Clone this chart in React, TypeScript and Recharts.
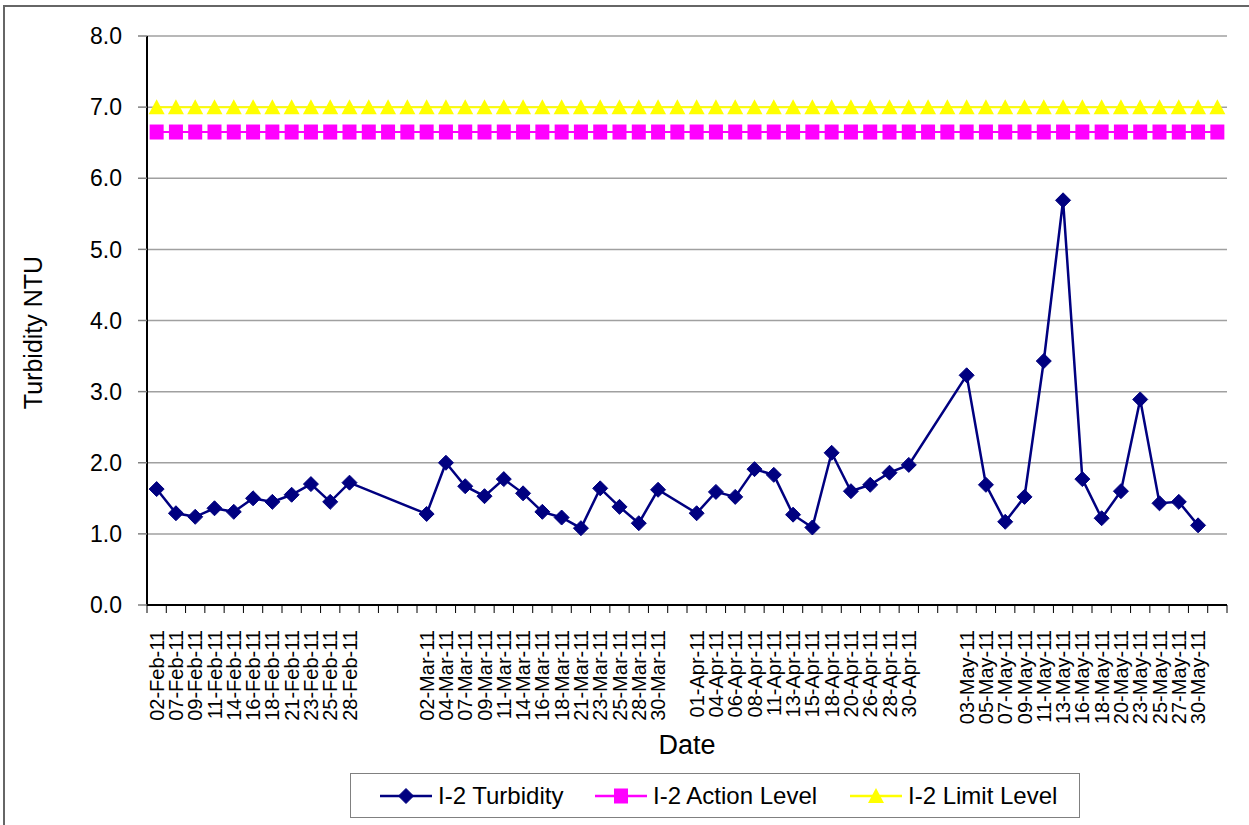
import React from 'react';
import { LineChart, Line, XAxis, YAxis, CartesianGrid, Legend } from 'recharts';

// sample dates, blanks are the empty slots on the category axis
const DATES = [
  '02-Feb-11', '07-Feb-11', '09-Feb-11', '11-Feb-11', '14-Feb-11', '16-Feb-11', '18-Feb-11',
  '21-Feb-11', '23-Feb-11', '25-Feb-11', '28-Feb-11', '', '', '',
  '02-Mar-11', '04-Mar-11', '07-Mar-11', '09-Mar-11', '11-Mar-11', '14-Mar-11', '16-Mar-11',
  '18-Mar-11', '21-Mar-11', '23-Mar-11', '25-Mar-11', '28-Mar-11', '30-Mar-11', '',
  '01-Apr-11', '04-Apr-11', '06-Apr-11', '08-Apr-11', '11-Apr-11', '13-Apr-11', '15-Apr-11',
  '18-Apr-11', '20-Apr-11', '26-Apr-11', '28-Apr-11', '30-Apr-11', '', '',
  '03-May-11', '05-May-11', '07-May-11', '09-May-11', '11-May-11', '13-May-11', '16-May-11',
  '18-May-11', '20-May-11', '23-May-11', '25-May-11', '27-May-11', '30-May-11', '',
];

const TURBIDITY: (number | null)[] = [
  1.63, 1.29, 1.24, 1.36, 1.31, 1.5, 1.45,
  1.55, 1.7, 1.45, 1.72, null, null, null,
  1.28, 2.0, 1.67, 1.53, 1.77, 1.57, 1.31,
  1.23, 1.08, 1.64, 1.38, 1.15, 1.62, null,
  1.29, 1.59, 1.52, 1.91, 1.83, 1.27, 1.09,
  2.14, 1.6, 1.69, 1.86, 1.97, null, null,
  3.23, 1.69, 1.17, 1.52, 3.43, 5.69, 1.77,
  1.22, 1.6, 2.89, 1.43, 1.45, 1.12, null,
];

const ACTION_LEVEL = 6.65;
const LIMIT_LEVEL = 7.0;

const Y_TICKS = [0, 1, 2, 3, 4, 5, 6, 7, 8];

const data = DATES.map((date, i) => ({
  slot: i,
  date,
  turbidity: TURBIDITY[i],
  action: ACTION_LEVEL,
  limit: LIMIT_LEVEL,
}));

const FONT = '"Liberation Sans", Arial, sans-serif';
const PLOT_W = 1080;
const HALF_BAND = PLOT_W / DATES.length / 2;

const Diamond = ({ cx, cy }: any) => {
  if (cx == null || cy == null) return null;
  const r = 7.5;
  return (
    <polygon
      points={`${cx},${cy - r} ${cx + r},${cy} ${cx},${cy + r} ${cx - r},${cy}`}
      fill="#000080"
      stroke="#000080"
    />
  );
};

const Square = ({ cx, cy }: any) => {
  if (cx == null || cy == null) return null;
  return <rect x={cx - 7} y={cy - 7.5} width={14} height={15} fill="#ff00ff" />;
};

const Triangle = ({ cx, cy }: any) => {
  if (cx == null || cy == null) return null;
  return (
    <polygon
      points={`${cx},${cy - 8} ${cx + 8},${cy + 7} ${cx - 8},${cy + 7}`}
      fill="#ffff00"
    />
  );
};

const XTick = ({ x, y, payload, index }: any) => {
  const label = DATES[payload.value];
  return (
    <g>
      <line x1={x - HALF_BAND} y1={y} x2={x - HALF_BAND} y2={y + 8} stroke="#000" strokeWidth={1} />
      {index === DATES.length - 1 && (
        <line x1={x + HALF_BAND} y1={y} x2={x + HALF_BAND} y2={y + 8} stroke="#000" strokeWidth={1} />
      )}
      <text
        transform={`translate(${x},${y + 25}) rotate(-90)`}
        textAnchor="end"
        dominantBaseline="central"
        fontSize={20}
        fontFamily={FONT}
        fill="#000"
      >
        {label}
      </text>
    </g>
  );
};

const YLabel = ({ viewBox }: any) => {
  const cy = viewBox.y + viewBox.height / 2 + 12;
  return (
    <text
      transform={`translate(33,${cy}) rotate(-90)`}
      textAnchor="middle"
      dominantBaseline="central"
      fontSize={25}
      fontFamily={FONT}
      fill="#000"
    >
      Turbidity NTU
    </text>
  );
};

const legendItems = [
  { name: 'I-2 Turbidity', color: '#000080', Marker: Diamond, width: 215 },
  { name: 'I-2 Action Level', color: '#ff00ff', Marker: Square, width: 255 },
  { name: 'I-2 Limit Level', color: '#ffff00', Marker: Triangle, width: 220 },
];

const LegendBox = () => (
  <div
    style={{
      width: 730,
      height: 45,
      boxSizing: 'border-box',
      border: '1px solid #808080',
      background: '#fff',
      display: 'flex',
      alignItems: 'center',
      paddingLeft: 29,
      fontFamily: FONT,
      fontSize: 24,
      color: '#000',
      whiteSpace: 'nowrap',
    }}
  >
    {legendItems.map(({ name, color, Marker, width }) => (
      <div key={name} style={{ display: 'flex', alignItems: 'center', width, flex: 'none' }}>
        <svg width={52} height={20} style={{ marginRight: 6 }}>
          <line x1={0} y1={10} x2={52} y2={10} stroke={color} strokeWidth={2.5} />
          <Marker cx={26} cy={10} />
        </svg>
        <span>{name}</span>
      </div>
    ))}
  </div>
);

export default function App() {
  return (
    <div style={{ position: 'absolute', left: 0, top: 0, width: 1249, height: 825, background: '#fff', overflow: 'hidden' }}>
      <div
        style={{
          position: 'absolute',
          left: 3,
          top: 5,
          width: 1300,
          height: 900,
          borderTop: '2px solid #666',
          borderLeft: '2px solid #666',
        }}
      />
      <div style={{ position: 'absolute', left: 0, top: 0 }}>
        <LineChart
          width={1249}
          height={825}
          data={data}
          margin={{ top: 36, right: 22, bottom: 7, left: 27 }}
        >
          <CartesianGrid vertical={false} stroke="#a0a0a0" strokeWidth={1.5} />
          <XAxis
            dataKey="slot"
            type="category"
            scale="band"
            interval={0}
            height={168}
            tickLine={false}
            tickSize={0}
            tickMargin={0}
            tick={<XTick />}
            axisLine={{ stroke: '#000', strokeWidth: 2 }}
            label={{ value: 'Date', position: 'insideBottom', offset: 19, fontSize: 27, fontFamily: FONT, fill: '#000' }}
          />
          <YAxis
            domain={[0, 8]}
            ticks={Y_TICKS}
            interval={0}
            width={120}
            tickSize={9}
            tickMargin={16}
            tickFormatter={(v: number) => v.toFixed(1)}
            tick={{ fontSize: 23, fontFamily: FONT, fill: '#000' }}
            tickLine={{ stroke: '#808080', strokeWidth: 1.5 }}
            axisLine={{ stroke: '#000', strokeWidth: 2 }}
            label={<YLabel />}
          />
          <YAxis
            yAxisId="frame"
            orientation="right"
            width={0}
            domain={[0, 8]}
            tick={false}
            tickLine={false}
            axisLine={{ stroke: '#808080', strokeWidth: 2 }}
          />
          <Legend
            verticalAlign="bottom"
            content={<LegendBox />}
            wrapperStyle={{ left: 350, width: 730 }}
          />
          <Line
            dataKey="limit"
            name="I-2 Limit Level"
            stroke="#ffff00"
            strokeWidth={2}
            dot={<Triangle />}
            activeDot={false}
            isAnimationActive={false}
          />
          <Line
            dataKey="action"
            name="I-2 Action Level"
            stroke="#ff00ff"
            strokeWidth={2}
            dot={<Square />}
            activeDot={false}
            isAnimationActive={false}
          />
          <Line
            dataKey="turbidity"
            name="I-2 Turbidity"
            stroke="#000080"
            strokeWidth={2.5}
            dot={<Diamond />}
            activeDot={false}
            connectNulls
            isAnimationActive={false}
          />
        </LineChart>
      </div>
    </div>
  );
}
